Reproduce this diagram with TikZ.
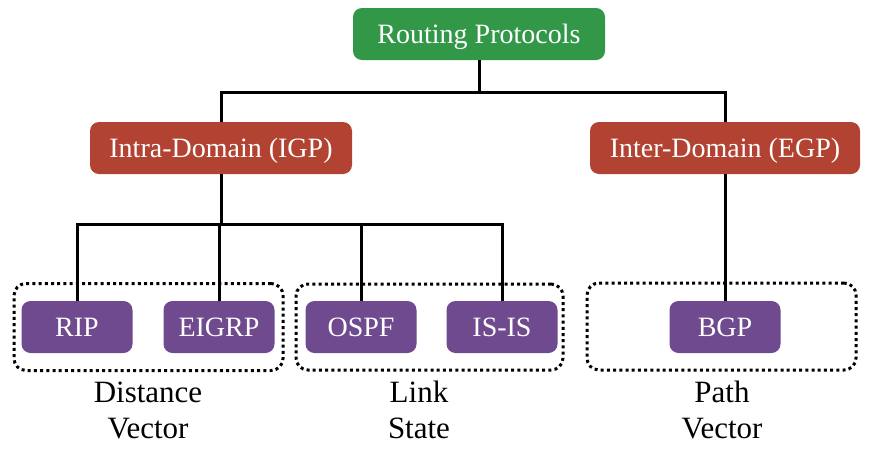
\documentclass[tikz,border=0pt]{standalone}
\usepackage{fontspec}
\setmainfont{Liberation Serif}
\definecolor{rpgreen}{RGB}{50,152,72}
\definecolor{rpred}{RGB}{178,66,50}
\definecolor{rppurple}{RGB}{112,74,142}
\begin{document}
\begin{tikzpicture}[x=1pt,y=-1pt,
  box/.style={rounded corners=9pt, inner sep=0pt, text=white, font=\fontsize{28}{30}\selectfont, text height=18.6pt, text depth=0pt},
  topbox/.style={box, fill=rpgreen, minimum width=252pt, minimum height=52pt},
  midbox/.style={box, fill=rpred, minimum height=52pt},
  leafbox/.style={box, fill=rppurple, minimum width=111pt, minimum height=52pt},
  group/.style={draw=black, line width=3pt, dash pattern=on 3pt off 3.2pt, rounded corners=12pt, inner sep=0pt},
  link/.style={draw=black, line width=3pt},
  cat/.style={align=center, font=\fontsize{31}{36}\selectfont, inner sep=0pt, anchor=base}
]
\useasboundingbox (0,0) rectangle (876,448);
\fill[white] (0,0) rectangle (876,448);

% dotted groups
\node[group, minimum width=269pt, minimum height=87pt] (g1) at (148.5,327) {};
\node[group, minimum width=267pt, minimum height=86pt] (g2) at (429.5,327) {};
\node[group, minimum width=269pt, minimum height=87pt] (g3) at (721.5,326.5) {};

% boxes
\node[topbox] (root) at (479,34) {Routing Protocols};
\node[midbox, minimum width=262pt] (igp) at (221,148) {Intra-Domain (IGP)};
\node[midbox, minimum width=270pt] (egp) at (725,148) {Inter-Domain (EGP)};
\node[leafbox] (rip) at (77,327) {RIP};
\node[leafbox] (eigrp) at (219,327) {EIGRP};
\node[leafbox] (ospf) at (361,327) {OSPF};
\node[leafbox] (isis) at (502,327) {IS-IS};
\node[leafbox] (bgp) at (725,327) {BGP};

% junction coordinates
\coordinate (j0) at (479,92);
\coordinate (j1) at (221,224);

% connectors
\draw[link] (root.south) -- (j0);
\draw[link] (igp.north) |- (j0) -| (egp.north);
\draw[link] (igp.south) -- (j1);
\draw[link] (rip.north) |- (j1) -| (isis.north);
\draw[link] (eigrp.north) -- (eigrp.north |- j1);
\draw[link] (ospf.north) -- (ospf.north |- j1);
\draw[link] (egp.south) -- (bgp.north);

% category labels
\node[cat] (l1) at (148,438) {Distance\\Vector};
\node[cat] (l2) at (419,438) {Link\\State};
\node[cat] (l3) at (722,438) {Path\\Vector};
\end{tikzpicture}
\end{document}
